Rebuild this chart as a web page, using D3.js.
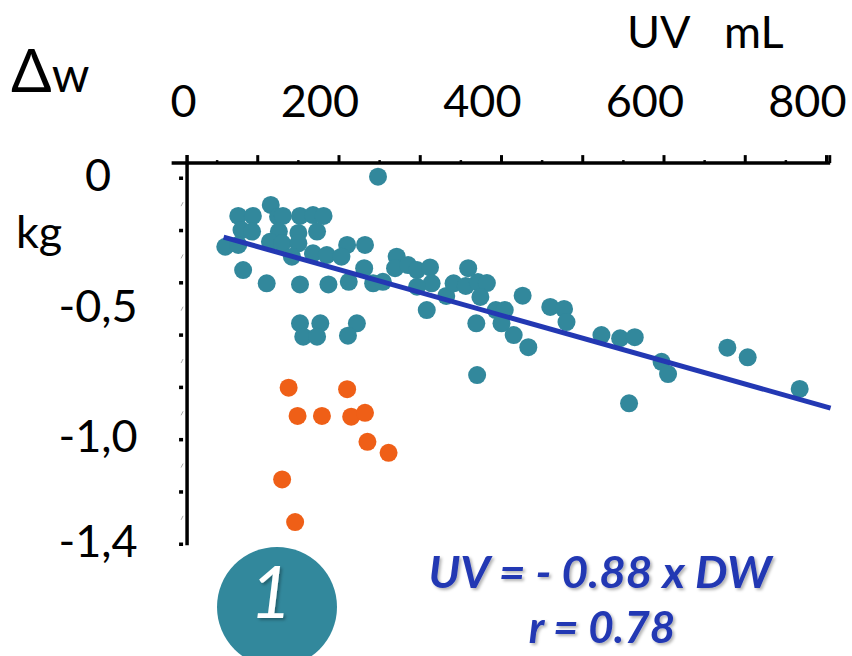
<!DOCTYPE html>
<html lang="en">
<head>
<meta charset="UTF-8">
<script src="https://d3js.org/d3.v7.min.js"></script>
<style>
  body { margin: 0; background: #fff; }
  text { font-family: Lato, "Open Sans", sans-serif; }
</style>
</head>
<body>
<div class="chart"></div>
<script>
// patients without weight problem (teal): urine volume (mL) and weight change (kg)
var tealUV = [76, 94, 116, 125, 131, 152, 168, 181, 80, 93, 126, 150, 173,
  60, 76, 115, 130, 150, 210, 232, 142, 168, 185, 203, 271, 82, 231, 269,
  111, 152, 187, 212, 242, 254, 152, 177, 156, 173, 222, 211, 248,
  285, 296, 312, 314, 296, 308, 332, 341, 359, 356, 371, 382, 374, 369,
  393, 404, 400, 415, 433, 370, 426, 460, 477, 480, 523, 546, 564, 597,
  605, 557, 678, 703, 767]
var tealDW = [-0.145, -0.145, -0.103, -0.148, -0.145, -0.145, -0.142, -0.145,
  -0.199, -0.205, -0.205, -0.21, -0.205,
  -0.263, -0.256, -0.244, -0.25, -0.25, -0.256, -0.256,
  -0.301, -0.288, -0.295, -0.301, -0.301, -0.352, -0.345, -0.345,
  -0.403, -0.407, -0.407, -0.397, -0.403, -0.397,
  -0.556, -0.556, -0.607, -0.607, -0.556, -0.603, 0.005,
  -0.333, -0.352, -0.342, -0.403, -0.416, -0.505, -0.451, -0.403, -0.345,
  -0.413, -0.398, -0.402, -0.455, -0.556, -0.505, -0.505, -0.556, -0.601,
  -0.647, -0.754, -0.45, -0.493, -0.501, -0.551, -0.601, -0.613, -0.609,
  -0.703, -0.75, -0.862, -0.649, -0.686, -0.807]

// outliers (orange)
var orangeUV = [138, 210, 149, 179, 215, 232, 235, 261, 130, 146]
var orangeDW = [-0.802, -0.808, -0.91, -0.91, -0.913, -0.898, -1.009, -1.051, -1.153, -1.316]

// regression line end points
var fitUV = [58, 805]
var fitDW = [-0.226, -0.88]

var xLabels = [0, 200, 400, 600, 800]
var yLabels = [0, -0.5, -1.0, -1.4]
var xMajor = [100, 200, 300, 400, 500, 600, 700, 800]
var xMinor = [50, 150, 250, 350, 450, 550, 650, 750]
var yMajor = [0, -0.2, -0.4, -0.6, -0.8, -1.0, -1.2, -1.4]
var yMinor = [-0.1, -0.3, -0.5, -0.7, -0.9, -1.1, -1.3]

var width = 852
var height = 656
var teal = "#32889c"
var orange = "#ef5f17"
var blue = "#2338b3"
var fs = 45

var svg = d3.select(".chart").append("svg")
    .attr("width", width)
    .attr("height", height)

var defs = svg.append("defs")
defs.append("filter").attr("id", "shadow")
    .attr("x", "-20%").attr("y", "-20%").attr("width", "150%").attr("height", "150%")
    .append("feDropShadow")
    .attr("dx", 2).attr("dy", 2).attr("stdDeviation", 1.5)
    .attr("flood-color", "#000").attr("flood-opacity", 0.3)

var x = d3.scaleLinear().domain([0, 800]).range([176.5, 826.5])
var y = d3.scaleLinear().domain([0, -1.4]).range([178, 544])

var x0 = x(13), y0 = y(0.057)

// axes lines
svg.append("line")
    .attr("x1", x(-6)).attr("x2", x(804.5))
    .attr("y1", y0).attr("y2", y0)
    .attr("stroke", "#000").attr("stroke-width", 3.5)
svg.append("line")
    .attr("x1", x0).attr("x2", x0)
    .attr("y1", y0 - 8).attr("y2", y(-1.405))
    .attr("stroke", "#000").attr("stroke-width", 3.5)

// x ticks (pointing up)
svg.selectAll(".xmaj").data(xMajor).enter().append("line")
    .attr("x1", d => x(d)).attr("x2", d => x(d))
    .attr("y1", y0).attr("y2", y0 - 8)
    .attr("stroke", "#000").attr("stroke-width", 3)
svg.append("line")
    .attr("x1", x(804)).attr("x2", x(804))
    .attr("y1", y0).attr("y2", y0 - 8)
    .attr("stroke", "#000").attr("stroke-width", 3)
svg.selectAll(".xmin").data(xMinor).enter().append("line")
    .attr("x1", d => x(d)).attr("x2", d => x(d))
    .attr("y1", y0).attr("y2", y0 - 3)
    .attr("stroke", "#000").attr("stroke-width", 2.5)

// y ticks (small squares left of the axis)
svg.selectAll(".ymaj").data(yMajor).enter().append("rect")
    .attr("x", x0 - 8).attr("y", d => y(d) - 1.5)
    .attr("width", 4).attr("height", 3.5)
    .attr("fill", "#000")
svg.selectAll(".ymin").data(yMinor).enter().append("line")
    .attr("x1", x0 - 6).attr("x2", x0 - 4)
    .attr("y1", d => y(d) + 2).attr("y2", d => y(d) - 2)
    .attr("stroke", "#aaa").attr("stroke-width", 1)

// tick labels
svg.selectAll(".xlab").data(xLabels).enter().append("text")
    .attr("x", d => x(d) + 20).attr("y", 117)
    .attr("text-anchor", "end")
    .attr("font-size", fs)
    .text(d => d)
svg.selectAll(".ylab").data(yLabels).enter().append("text")
    .attr("x", 98).attr("y", d => y(d) + 13)
    .attr("text-anchor", "middle")
    .attr("font-size", fs)
    .text(d => d === 0 ? "0" : d3.format(".1f")(d).replace(".", ",").replace("−", "-"))

// axis titles
svg.append("text").attr("x", 627).attr("y", 48).attr("font-size", fs).text("UV")
svg.append("text").attr("x", 724).attr("y", 48).attr("font-size", fs).text("mL")
svg.append("text").attr("x", 16).attr("y", 248).attr("font-size", fs).text("kg")
var dw = svg.append("text").attr("x", 11).attr("y", 92)
dw.append("tspan").attr("font-size", 60).text("Δ")
dw.append("tspan").attr("font-size", 48).text("w")

// points
svg.selectAll(".teal").data(tealUV).enter().append("circle")
    .attr("cx", d => x(d))
    .attr("cy", (d, i) => y(tealDW[i]))
    .attr("r", 9)
    .attr("fill", teal)
svg.selectAll(".orange").data(orangeUV).enter().append("circle")
    .attr("cx", d => x(d))
    .attr("cy", (d, i) => y(orangeDW[i]))
    .attr("r", 9)
    .attr("fill", orange)

// regression line
svg.append("path")
    .datum(fitUV.map((d, i) => [d, fitDW[i]]))
    .attr("d", d3.line().x(d => x(d[0])).y(d => y(d[1])))
    .attr("stroke", blue).attr("stroke-width", 5).attr("fill", "none")

// badge
svg.append("circle")
    .attr("cx", 277).attr("cy", 607).attr("r", 60)
    .attr("fill", teal)
svg.append("text")
    .attr("x", 271).attr("y", 618)
    .attr("text-anchor", "middle")
    .attr("font-size", 72).attr("font-style", "italic")
    .attr("fill", "#fff")
    .attr("filter", "url(#shadow)")
    .text("1")

// equation
svg.append("text")
    .attr("x", 600).attr("y", 588)
    .attr("text-anchor", "middle")
    .attr("font-size", 44).attr("font-style", "italic").attr("font-weight", "bold")
    .attr("textLength", 343).attr("lengthAdjust", "spacingAndGlyphs")
    .attr("fill", blue)
    .attr("filter", "url(#shadow)")
    .text("UV = - 0.88 x DW")
svg.append("text")
    .attr("x", 602).attr("y", 643)
    .attr("text-anchor", "middle")
    .attr("font-size", 44).attr("font-style", "italic").attr("font-weight", "bold")
    .attr("fill", blue)
    .attr("filter", "url(#shadow)")
    .text("r = 0.78")
</script>
</body>
</html>
